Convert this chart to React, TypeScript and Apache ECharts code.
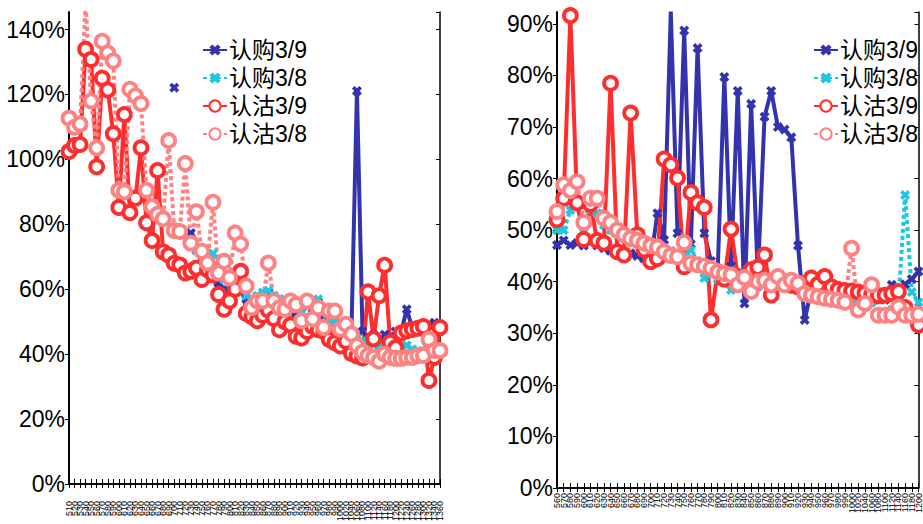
import React, { useEffect, useRef } from "react";
import * as echarts from "echarts";

const leftCategories = [
  "510", "520", "530", "540", "550", "560", "570", "580", "590",
  "600", "610", "620", "630", "640", "650", "660", "670", "680", "690",
  "700", "710", "720", "730", "740", "750", "760", "770", "780", "790",
  "800", "810", "820", "830", "840", "850", "860", "870", "880", "890",
  "900", "910", "920", "930", "940", "950", "960", "970", "980", "990",
  "1000", "1020", "1040", "1060", "1080", "1100", "1120", "1140", "1160", "1180",
  "1200", "1220", "1240", "1260", "1280", "1300", "1320", "1340", "1360",
];

const rightCategories = [
  "560", "570", "580", "590",
  "600", "610", "620", "630", "640", "650", "660", "670", "680", "690",
  "700", "710", "720", "730", "740", "750", "760", "770", "780", "790",
  "800", "810", "820", "830", "840", "850", "860", "870", "880", "890",
  "900", "910", "920", "930", "940", "950", "960", "970", "980", "990",
  "1000", "1020", "1040", "1060", "1080", "1100", "1120", "1140", "1160", "1180", "1200",
];

const seriesNames = ["认购3/9", "认购3/8", "认沽3/9", "认沽3/8"];

// Left panel (percent)
const leftCall39 = [
  null, null, null, null, null, null, null, null, null, null,
  null, null, null, null, null, null, null, null, null, 122.1,
  null, null, 77.3, 72, 68, 66, 64, 62, 60, 62,
  60, 59.4, 57, 56, 57, 58, 59, 57, 56, 55,
  53, 52, 53, 55, 54, 56, 52, 50, 50, 49.7,
  47, 46.2, 121.1, 47, 45, 46, 44, 46, 45, 47,
  47, 53.8, 48, 47, 48, 49, 49.7, 47,
];
const leftCall38 = [
  null, null, null, null, null, null, null, null, null, null,
  null, null, null, null, null, null, null, null, null, null,
  null, null, 75, 72, 69, 68, 71, 66, 63, 62,
  61, 60, 58, 57, 58, 59, 59.5, 58, 57, 56,
  55, 54, 53, 55, 56, 56.9, 53, 51, 50, 48,
  47, 46, 45, 44, 43, 43, 42.5, 42, 42, 42,
  42, 42.7, 41.5, 41, 41, 41, 40.5, 40,
];
const leftPut39 = [
  102.4, 104.3, 104.6, 133.9, 130.8, 97.7, 125.0, 121.4, 107.9, 85.2,
  113.8, 83.6, 88.0, 103.6, 80.5, 75.0, 96.6, 71.5, 70.5, 68.0,
  67.5, 65.0, 65.5, 66.5, 63.0, 66.0, 64.5, 58.4, 53.8, 56.4,
  60.0, 65.5, 52.5, 51.5, 50.3, 52.0, 53.5, 51.0, 47.5, 50.0,
  49.0, 45.5, 45.0, 47.0, 48.5, 47.5, 47.0, 44.5, 43.5, 42.5,
  44.0, 40.2, 39.4, 38.8, 59.2, 44.7, 58.0, 67.4, 43.6, 42.0,
  46.5, 47.2, 47.6, 48.0, 48.5, 31.9, 39.0, 48.2,
];
const leftPut38 = [
  112.7, 109.9, 110.9, 148, 118.0, 103.5, 136.4, 132.8, 130.3, 90.5,
  90.0, 121.6, 119.6, 117.2, 90.5, 85.4, 83.1, 81.7, 105.8, 78.1,
  77.8, 98.7, 74.2, 83.9, 71.7, 68.1, 86.8, 65.0, 68.6, 63.5,
  77.3, 73.9, 61.0, 54.3, 56.4, 56.4, 68.1, 56.4, 54.3, 53.8,
  56.4, 55.3, 50.3, 56.4, 50.8, 54.3, 48.2, 53.3, 53.3, 47.7,
  49.2, 46.2, 42.6, 40.6, 39.6, 39.0, 37.8, 40.0, 39.0, 38.7,
  38.7, 39.0, 39.0, 39.5, 39.6, 44.6, 41.1, 41.1,
];

// Right panel (percent)
const rightCall39 = [
  47.1, 48.0, 47.1, 47.5, 47.0, 48.0, 47.0, 46.5, 46.0, 45.5,
  45.5, 45.5, 45.0, 44.5, 44.0, 53.3, 48.1, 92.4, 49.4, 88.7,
  47.3, 85.3, 49.4, 44.0, 42.0, 79.7, 43.0, 77.0, 35.8, 74.5,
  41.0, 72.0, 77.0, 70.0, 69.5, 68.0, 47.0, 32.6, 38.5, 39.0,
  38.8, 38.5, 38.3, 38.2, 38.0, 37.8, 37.5, 37.2, 37.0, 36.5,
  39.4, 38.0, 39.5, 40.5, 42.0,
];
const rightCall38 = [
  50.0, 50.0, 53.9, 55.0, 50.5, 54.0, 53.3, 51.0, 50.0, 49.5,
  49.0, 48.5, 49.1, 48.0, 47.5, 47.0, 46.5, 46.0, 45.5, 45.0,
  46.1, 44.0, 40.7, 41.5, 40.5, 40.0, 38.4, 39.5, 39.0, 39.5,
  39.0, 39.5, 39.0, 40.0, 39.0, 39.5, 39.0, 37.5, 37.2, 37.0,
  36.8, 36.5, 36.3, 36.0, 35.8, 35.5, 35.5, 36.0, 34.0, 34.0,
  34.5, 36.0, 56.8, 38.0, 36.0,
];
const rightPut39 = [
  52.0, 56.2, 91.6, 55.3, 48.2, 55.0, 48.0, 47.5, 78.5, 45.8,
  45.2, 72.7, 49.1, 46.2, 43.9, 44.5, 63.8, 62.7, 60.1, 42.9,
  57.3, 55.3, 54.4, 32.6, 42.0, 40.5, 50.2, 41.0, 40.5, 42.3,
  42.8, 45.2, 37.4, 40.5, 40.0, 39.3, 39.0, 39.5, 40.7, 39.5,
  41.0, 39.0, 38.5, 38.3, 38.2, 38.0, 37.8, 37.5, 37.3, 37.4,
  37.7, 38.1, 35.0, 33.5, 31.6,
];
const rightPut38 = [
  53.6, 58.8, 57.7, 59.4, 51.5, 56.2, 56.2, 52.3, 51.5, 50.0,
  49.1, 48.4, 48.0, 47.5, 47.0, 46.7, 45.8, 45.1, 44.8, 47.6,
  43.6, 43.3, 43.0, 42.6, 41.9, 41.6, 41.3, 39.4, 40.8, 38.1,
  40.0, 40.3, 39.4, 41.0, 39.4, 40.3, 39.7, 37.7, 37.4, 37.1,
  36.8, 36.6, 36.4, 36.0, 46.5, 34.5, 35.8, 39.4, 33.5, 33.5,
  33.5, 35.1, 33.5, 33.5, 33.7,
];

const leftYMax = 145.4;
const rightYMax = 92.3;
const leftYStep = 20;
const rightYStep = 10;

const BLUE = "#3333AD";
const CYAN = "#1FC6DF";
const RED = "#FF2E2E";
const PINK = "#FF8282";
const FONT = "'Liberation Sans', Arial, 'Noto Sans CJK SC', sans-serif";
const X_SYMBOL =
  "path://M2.6,0 L5,2.4 L7.4,0 L10,2.6 L7.6,5 L10,7.4 L7.4,10 L5,7.6 L2.6,10 L0,7.4 L2.4,5 L0,2.6 Z";

function mkSeries(
  name: string,
  data: (number | null)[],
  color: string,
  dotted: boolean,
  circle: boolean,
  idx: number
) {
  return {
    type: "line",
    name,
    data,
    xAxisIndex: idx * 2,
    yAxisIndex: idx * 2,
    symbol: circle ? "circle" : X_SYMBOL,
    symbolSize: circle ? 13 : 10,
    showAllSymbol: true,
    connectNulls: false,
    clip: true,
    lineStyle: {
      color,
      width: 4,
      type: dotted ? [4, 3] : "solid",
      cap: "butt",
    },
    itemStyle: circle
      ? { color: "#ffffff", borderColor: color, borderWidth: 3.8 }
      : { color, borderWidth: 0 },
    emphasis: { disabled: true },
  };
}

function xAxes(cats: string[], grid: number, margin: number) {
  return [
    {
      gridIndex: grid,
      type: "category",
      data: cats,
      boundaryGap: false,
      axisLine: { show: true, lineStyle: { color: "#000", width: 1.5 } },
      axisTick: { show: true, inside: true, length: 5, interval: 0, lineStyle: { color: "#000", width: 1 } },
      axisLabel: { show: true, rotate: 90, interval: 0, fontSize: 9, margin, color: "#000", fontFamily: FONT, hideOverlap: false },
      splitLine: { show: false },
    },
    {
      gridIndex: grid,
      type: "category",
      position: "top",
      data: cats,
      boundaryGap: false,
      axisLine: { show: true, lineStyle: { color: "#000", width: 1.5 } },
      axisTick: { show: true, inside: true, length: 4, interval: 0, lineStyle: { color: "#000", width: 1 } },
      axisLabel: { show: false },
      splitLine: { show: false },
    },
  ];
}

function yAxes(grid: number, max: number, step: number) {
  return [
    {
      gridIndex: grid,
      type: "value",
      min: 0,
      max,
      interval: step,
      axisLine: { show: true, lineStyle: { color: "#000", width: 2 } },
      axisTick: { show: true, inside: false, length: 4, lineStyle: { color: "#000", width: 1 } },
      axisLabel: {
        show: true,
        fontSize: 23,
        margin: 4,
        color: "#000",
        fontFamily: FONT,
        showMaxLabel: false,
        formatter: (v: number) => (Math.abs(v % step) < 1e-6 ? `${v}%` : ""),
      },
      splitLine: { show: false },
    },
    {
      gridIndex: grid,
      type: "value",
      position: "right",
      min: 0,
      max,
      interval: step,
      axisLine: { show: true, lineStyle: { color: "#000", width: 1.5 } },
      axisTick: { show: true, inside: true, length: 4, lineStyle: { color: "#000", width: 1 } },
      axisLabel: { show: false },
      splitLine: { show: false },
    },
  ];
}

function mkLegend(left: number) {
  return {
    data: seriesNames,
    orient: "vertical",
    left,
    top: 36,
    padding: 0,
    itemWidth: 24,
    itemHeight: 14,
    itemGap: 0,
    selectedMode: false,
    textStyle: { fontSize: 23, color: "#000", fontFamily: FONT, lineHeight: 28, padding: [0, 0, 0, -3] },
  };
}

export default function App() {
  const ref = useRef<HTMLDivElement>(null);
  useEffect(() => {
    if (!ref.current) return;
    const chart = echarts.init(ref.current, undefined, { renderer: "svg" });
    chart.setOption({
      animation: false,
      backgroundColor: "#ffffff",
      grid: [
        { left: 69, right: 483, top: 12, bottom: 36, containLabel: false },
        { left: 557, right: 1, top: 12, bottom: 36, containLabel: false },
      ],
      legend: [mkLegend(202), mkLegend(813)],
      xAxis: [...xAxes(leftCategories, 0, 17), ...xAxes(rightCategories, 1, 5)],
      yAxis: [...yAxes(0, leftYMax, leftYStep), ...yAxes(1, rightYMax, rightYStep)],
      series: [
        mkSeries(seriesNames[0], leftCall39, BLUE, false, false, 0),
        mkSeries(seriesNames[1], leftCall38, CYAN, true, false, 0),
        mkSeries(seriesNames[2], leftPut39, RED, false, true, 0),
        mkSeries(seriesNames[3], leftPut38, PINK, true, true, 0),
        mkSeries(seriesNames[0], rightCall39, BLUE, false, false, 1),
        mkSeries(seriesNames[1], rightCall38, CYAN, true, false, 1),
        mkSeries(seriesNames[2], rightPut39, RED, false, true, 1),
        mkSeries(seriesNames[3], rightPut38, PINK, true, true, 1),
      ],
    });
    return () => chart.dispose();
  }, []);
  return (
    <div
      ref={ref}
      style={{ position: "fixed", left: 0, top: 0, width: 923, height: 524, background: "#fff" }}
    />
  );
}
